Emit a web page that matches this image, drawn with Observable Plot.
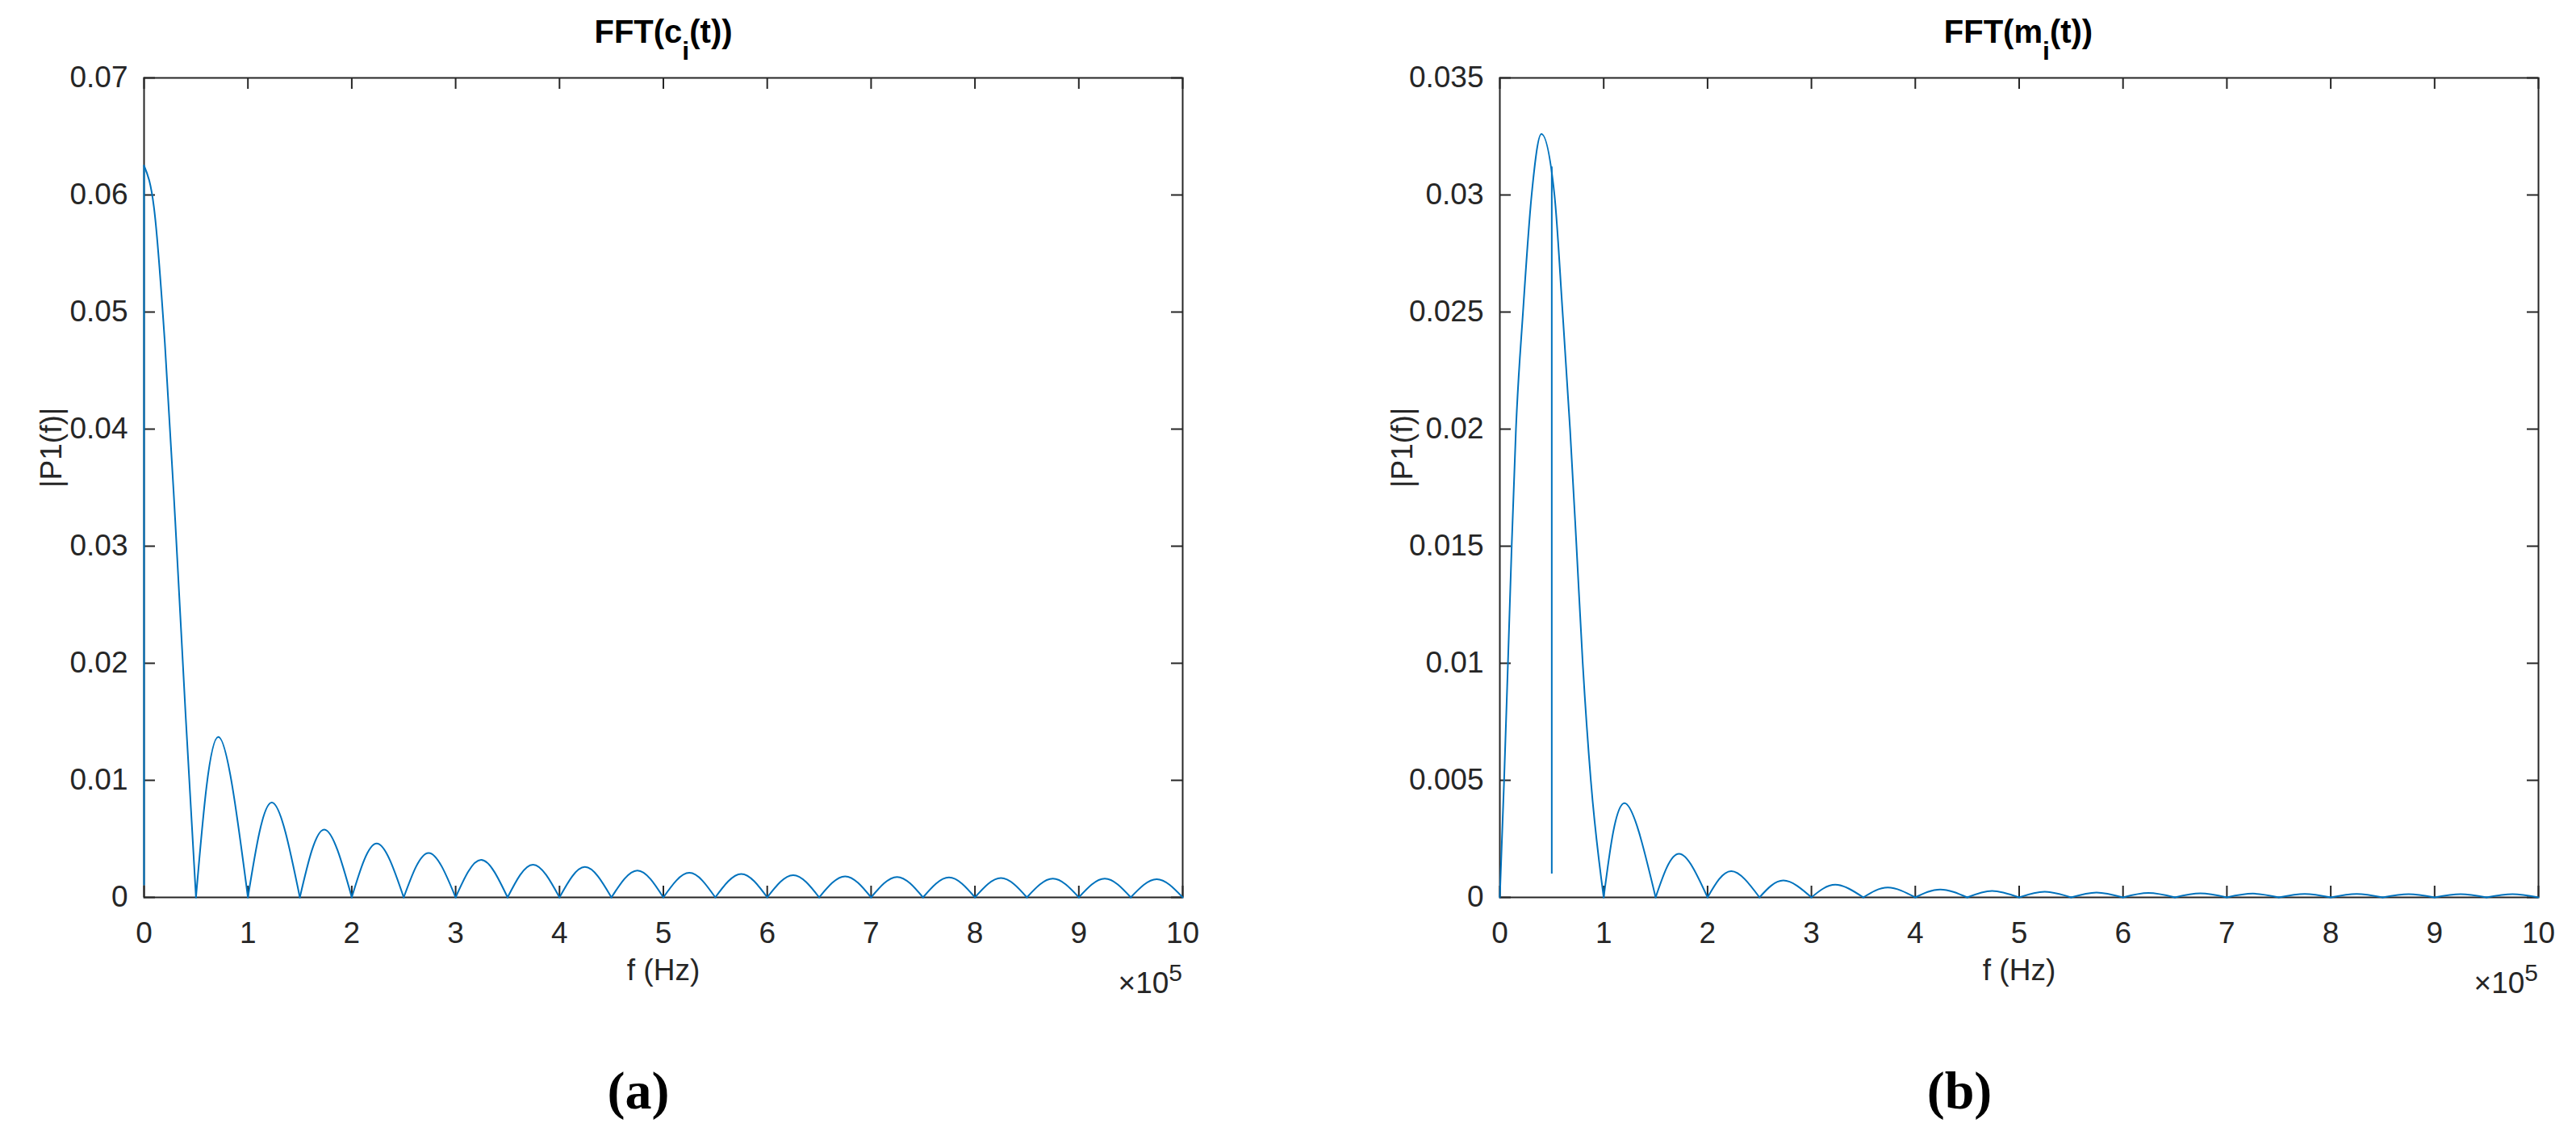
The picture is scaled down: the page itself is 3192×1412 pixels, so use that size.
<!DOCTYPE html>
<html>
<head>
<meta charset="utf-8">
<script src="https://cdn.jsdelivr.net/npm/d3@7"></script>
<script src="https://cdn.jsdelivr.net/npm/@observablehq/plot@0.6"></script>
<style>
  html, body { margin: 0; padding: 0; background: #fff; }
  #wrap { position: relative; width: 3192px; height: 1412px; background: #fff; overflow: hidden; }
  .panel { position: absolute; top: 0; }
  .title { position: absolute; top: 19px; width: 600px; text-align: center; white-space: nowrap;
           font: bold 40px/40px 'Liberation Sans', Arial, Helvetica, sans-serif; color: #000; }
  .sub { font-size: 32px; position: relative; top: 21px; }
  .mult { position: absolute; top: 1199px; white-space: nowrap;
          font: 37px/37px 'Liberation Sans', Arial, Helvetica, sans-serif; color: #262626; }
  .sup { font-size: 30px; position: relative; top: -15px; }
  .cap { position: absolute; top: 1318px; width: 200px; text-align: center;
         font: bold 66px/66px 'Liberation Serif', 'Times New Roman', serif; color: #000; }
</style>
</head>
<body>
<div id="wrap">
  <div id="pa" class="panel" style="left:0px"></div>
  <div id="pb" class="panel" style="left:1596px"></div>
</div>
<script>
// ---------- shared axis data ----------
const xTicks = [0, 1, 2, 3, 4, 5, 6, 7, 8, 9, 10];
const xTickLabels = ["0", "1", "2", "3", "4", "5", "6", "7", "8", "9", "10"];
const xLabel = "f (Hz)";
const yLabel = "|P1(f)|";
const xMultiplier = "×10";
const xExponent = "5";

// ---------- panel (a): FFT(c_i(t)) ----------  (f in units of 1e5 Hz)
const aTitleBase = "FFT(c";
const aTitleSub = "i";
const aTitleTail = "(t))";
const aCaption = "(a)";
const aYTicks = [0, 0.01, 0.02, 0.03, 0.04, 0.05, 0.06, 0.07];
const aYTickLabels = ["0", "0.01", "0.02", "0.03", "0.04", "0.05", "0.06", "0.07"];
const aYMax = 0.07;
const aMainF = [0, 0.1, 0.2, 0.3, 0.4, 0.5];
const aMainV = [0.0625, 0.0586, 0.0474, 0.0322, 0.0156, 0];
const aZeros = [0.5, 1.0, 1.5, 2.0, 2.5, 3.0, 3.5, 4.0, 4.5, 5.0, 5.5, 6.0, 6.5, 7.0, 7.5, 8.0, 8.5, 9.0, 9.5, 10.0];
const aPeakF = [0.715, 1.23, 1.735, 2.24, 2.74, 3.245, 3.745, 4.245, 4.75, 5.25, 5.75, 6.25, 6.75, 7.25, 7.75, 8.25, 8.75, 9.25, 9.75];
const aPeakV = [0.0137, 0.0081, 0.0058, 0.0046, 0.0038, 0.0032, 0.0028, 0.0026, 0.0023, 0.0021, 0.0020, 0.0019, 0.0018, 0.00175, 0.0017, 0.00165, 0.0016, 0.0016, 0.00155];
const aSpikeF = [0];
const aSpikeLo = [0.001];
const aSpikeHi = [0.0625];

// ---------- panel (b): FFT(m_i(t)) ----------
const bTitleBase = "FFT(m";
const bTitleSub = "i";
const bTitleTail = "(t))";
const bCaption = "(b)";
const bYTicks = [0, 0.005, 0.01, 0.015, 0.02, 0.025, 0.03, 0.035];
const bYTickLabels = ["0", "0.005", "0.01", "0.015", "0.02", "0.025", "0.03", "0.035"];
const bYMax = 0.035;
const bMainF = [0, 0.041, 0.078, 0.114, 0.155, 0.223, 0.306, 0.40, 0.526, 0.604, 0.676, 0.738, 0.798, 0.876, 1.0];
const bMainV = [0, 0.005, 0.010, 0.015, 0.020, 0.025, 0.030, 0.0326, 0.030, 0.025, 0.020, 0.015, 0.010, 0.005, 0];
const bZeros = [1.0, 1.5, 2.0, 2.5, 3.0, 3.5, 4.0, 4.5, 5.0, 5.5, 6.0, 6.5, 7.0, 7.5, 8.0, 8.5, 9.0, 9.5, 10.0];
const bPeakF = [1.2, 1.725, 2.228, 2.73, 3.23, 3.735, 4.24, 4.74, 5.245, 5.745, 6.245, 6.745, 7.25, 7.75, 8.25, 8.75, 9.25, 9.75];
const bPeakV = [0.00403, 0.00186, 0.00112, 0.00072, 0.00054, 0.00042, 0.00034, 0.00028, 0.00024, 0.00021, 0.00019, 0.00017, 0.00016, 0.00015, 0.00015, 0.00014, 0.00014, 0.00014];
const bSpikeF = [0.5];
const bSpikeLo = [0.001];
const bSpikeHi = [0.0312];

// ---------- rendering ----------
const BLUE = "#0072BD";
const AX = "#262626";
const W = 1596, H = 1260, MT = 96, MB = 149;
const IH = H - MT - MB;

function panel(cfg) {
  const IW = W - cfg.ml - cfg.mr;
  const main = cfg.mainF.map((f, i) => ({f, v: cfg.mainV[i]}));
  const lobes = [];
  cfg.zeros.slice(0, -1).forEach((z0, k) => {
    lobes.push({f: z0, v: 0, k});
    lobes.push({f: cfg.peakF[k], v: cfg.peakV[k], k});
    lobes.push({f: cfg.zeros[k + 1], v: 0, k});
  });
  const spikes = cfg.spikeF.map((f, i) => ({f, lo: cfg.spikeLo[i], hi: cfg.spikeHi[i]}));
  const xMap = new Map(xTicks.map((t, i) => [t, xTickLabels[i]]));
  const yMap = new Map(cfg.yTicks.map((t, i) => [t, cfg.yTickLabels[i]]));
  return Plot.plot({
    width: W, height: H,
    marginLeft: cfg.ml, marginRight: cfg.mr, marginTop: MT, marginBottom: MB,
    x: {domain: [0, 10]},
    y: {domain: [0, cfg.yMax]},
    style: {fontFamily: "'Liberation Sans', Arial, Helvetica, sans-serif", fontSize: "37px", color: AX, background: "#fff", overflow: "visible"},
    marks: [
      Plot.frame({stroke: AX, strokeWidth: 2}),
      Plot.ruleX(xTicks, {insetTop: IH - 14, stroke: AX, strokeWidth: 2}),
      Plot.ruleX(xTicks, {insetBottom: IH - 14, stroke: AX, strokeWidth: 2}),
      Plot.ruleY(cfg.yTicks, {insetRight: IW - 14, stroke: AX, strokeWidth: 2}),
      Plot.ruleY(cfg.yTicks, {insetLeft: IW - 14, stroke: AX, strokeWidth: 2}),
      Plot.axisX({ticks: xTicks, tickSize: 0, tickPadding: 30, tickFormat: d => xMap.get(d), label: null}),
      Plot.axisY({ticks: cfg.yTicks, tickSize: 0, tickPadding: 20, tickFormat: d => yMap.get(d), label: null}),
      Plot.text([xLabel], {frameAnchor: "bottom", dy: 102}),
      Plot.text([yLabel], {frameAnchor: "left", rotate: -90, dx: cfg.ylabDx}),
      Plot.ruleX(spikes, {x: "f", y1: "lo", y2: "hi", stroke: BLUE, strokeWidth: 2}),
      Plot.line(main, {x: "f", y: "v", curve: "monotone-x", stroke: BLUE, strokeWidth: 2}),
      Plot.line(lobes, {x: "f", y: "v", z: "k", curve: "natural", stroke: BLUE, strokeWidth: 2})
    ]
  });
}

document.getElementById("pa").appendChild(panel({
  ml: 178, mr: 131, yMax: aYMax, yTicks: aYTicks, yTickLabels: aYTickLabels,
  mainF: aMainF, mainV: aMainV, zeros: aZeros, peakF: aPeakF, peakV: aPeakV,
  spikeF: aSpikeF, spikeLo: aSpikeLo, spikeHi: aSpikeHi, ylabDx: -114
}));
document.getElementById("pb").appendChild(panel({
  ml: 262, mr: 47, yMax: bYMax, yTicks: bYTicks, yTickLabels: bYTickLabels,
  mainF: bMainF, mainV: bMainV, zeros: bZeros, peakF: bPeakF, peakV: bPeakV,
  spikeF: bSpikeF, spikeLo: bSpikeLo, spikeHi: bSpikeHi, ylabDx: -120
}));

// ---------- titles, multipliers, captions (HTML around the SVGs) ----------
const wrap = document.getElementById("wrap");
function addDiv(cls, style, parts) {
  const d = document.createElement("div");
  d.className = cls;
  d.setAttribute("style", style);
  parts.forEach(([txt, c]) => {
    if (c) { const s = document.createElement("span"); s.className = c; s.textContent = txt; d.appendChild(s); }
    else d.appendChild(document.createTextNode(txt));
  });
  wrap.appendChild(d);
}
addDiv("title", "left:522px", [[aTitleBase], [aTitleSub, "sub"], [aTitleTail]]);
addDiv("title", "left:2201px", [[bTitleBase], [bTitleSub, "sub"], [bTitleTail]]);
addDiv("mult", "right:1727px", [[xMultiplier], [xExponent, "sup"]]);
addDiv("mult", "right:47px", [[xMultiplier], [xExponent, "sup"]]);
addDiv("cap", "left:691px", [[aCaption]]);
addDiv("cap", "left:2328px", [[bCaption]]);
</script>
</body>
</html>
